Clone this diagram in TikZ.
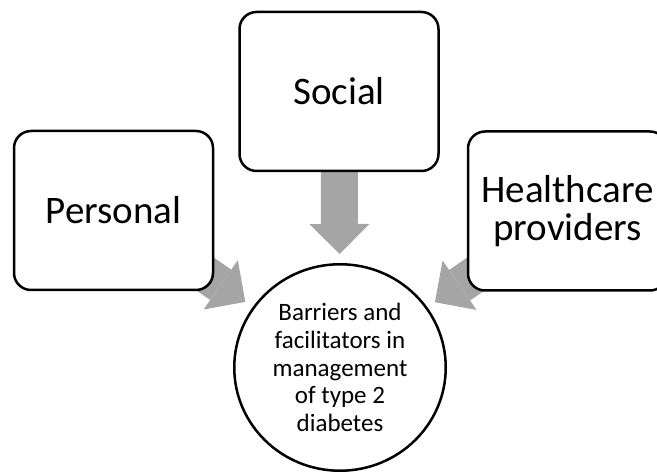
\documentclass[tikz,border=0pt]{standalone}
\usepackage{fontspec}
\setmainfont{Carlito}
\usetikzlibrary{arrows.meta,backgrounds,shapes.geometric}
\definecolor{arrowgray}{RGB}{165,165,165}

\begin{document}
\begin{tikzpicture}[x=1pt,y=1pt,
    factor/.style={draw,line width=2.5pt,rounded corners=17pt,fill=white,
        minimum width=199pt,minimum height=159pt,align=center,
        font=\fontsize{39}{38}\selectfont},
    outcome/.style={ellipse,draw,line width=2.5pt,fill=white,
        minimum width=211.5pt,minimum height=206.5pt,inner sep=0pt,
        align=center,font=\fontsize{25}{27.7}\selectfont},
    feed/.style={arrowgray,line width=37pt,shorten >=9pt,
        -{Triangle[width=60pt,length=30pt,line width=0pt]}}]
    \useasboundingbox (0,0) rectangle (657,474);
    \node[factor] (P) at (113.5,263.5) {Personal};
    \node[factor] (S) at (339,382.5) {Social};
    \node[factor] (H) at (567.5,263) {Healthcare\\providers};
    \node[outcome] (D) at (340,106.5) {Barriers and\\facilitators in\\management\\of type 2\\diabetes};
    \begin{pgfonlayer}{background}
        \draw[feed] (P.center) -- (D);
        \draw[feed] (S.center) -- (D);
        \draw[feed] (H.center) -- (D);
    \end{pgfonlayer}
\end{tikzpicture}
\end{document}
